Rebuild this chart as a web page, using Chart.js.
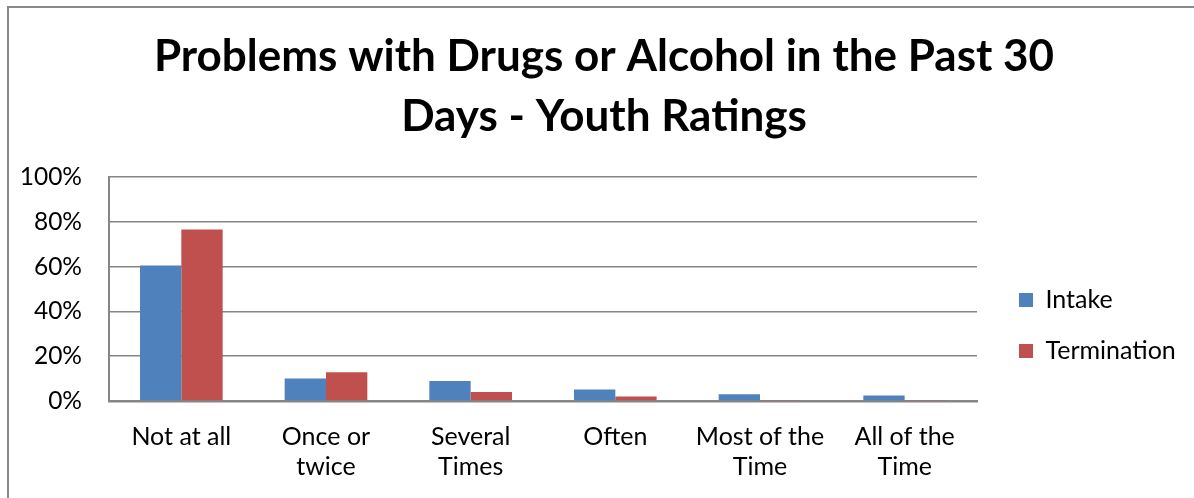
<!DOCTYPE html>
<html>
<head>
<meta charset="utf-8">
<script src="https://cdn.jsdelivr.net/npm/chart.js@4/dist/chart.umd.min.js"></script>
<style>
    html, body { margin: 0; padding: 0; background: #fff; overflow: hidden; }
    #canvas { position: absolute; left: 0; top: 0; width: 1194px; height: 498px; }
    #myChart { display: block; }
</style>
</head>
<body>
<div id="canvas"><canvas id="myChart"></canvas></div>
<script>
const categories = [
    'Not at all',
    ['Once or', 'twice'],
    ['Several', 'Times'],
    'Often',
    ['Most of the', 'Time'],
    ['All of the', 'Time']
];
const intake = [60.5, 10, 8.9, 5.1, 3, 2.5];
const termination = [76.6, 12.8, 4, 2, 0.5, 0.5];
const yTicks = [0, 20, 40, 60, 80, 100];

const fontFamily = 'Lato, "Noto Sans", sans-serif';
const gridColor = '#868686';

const data = {
    labels: categories,
    datasets: [
        {
            label: 'Intake',
            data: intake,
            backgroundColor: '#4F81BD',
            borderWidth: 0
        },
        {
            label: 'Termination',
            data: termination,
            backgroundColor: '#C0504D',
            borderWidth: 0
        }
    ]
};

// outer chart frame, only its left and top edges are inside the picture
const chartFrame = {
    id: 'chartFrame',
    beforeDraw(chart) {
        const c = chart.ctx;
        c.save();
        c.fillStyle = '#fff';
        c.fillRect(0, 0, chart.width, chart.height);
        c.strokeStyle = '#898989';
        c.lineWidth = 2;
        c.beginPath();
        c.moveTo(8, chart.height);
        c.lineTo(8, 7);
        c.lineTo(chart.width, 7);
        c.stroke();
        c.restore();
    }
};

// legend box sits right of the plot; Excel puts it a bit lower than centre
const legendPlace = {
    id: 'legendPlace',
    beforeLayout(chart) {
        const lg = chart.legend;
        if (lg && !lg._patched) {
            const fit = lg.fit;
            lg.fit = function () {
                fit.call(this);
                this.width = 217;
            };
            lg._patched = true;
        }
    },
    afterLayout(chart) {
        const lg = chart.legend;
        lg.left = 993;
        lg.right = 1194;
        lg.top = 261.5;
        lg.bottom = 498;
    }
};

const options = {
    responsive: false,
    animation: false,
    layout: {
        padding: { left: 14, right: 0, top: 0, bottom: 0 }
    },
    datasets: {
        bar: {
            categoryPercentage: 0.5714,
            barPercentage: 1
        }
    },
    scales: {
        y: {
            min: 0,
            max: 100,
            afterFit(scale) { scale.width = 95; },
            afterBuildTicks(scale) {
                scale.ticks = yTicks.map(v => ({ value: v }));
            },
            grid: {
                color: gridColor,
                lineWidth: 1.5,
                drawTicks: false
            },
            border: { display: true, color: gridColor, width: 2 },
            ticks: {
                padding: 27,
                color: '#000',
                font: { family: fontFamily, size: 24.5 },
                callback: v => v + '%'
            }
        },
        x: {
            afterFit(scale) { scale.height = 97; },
            grid: { display: false, drawTicks: false },
            border: { display: true, color: gridColor, width: 2.5 },
            ticks: {
                padding: 21,
                color: '#000',
                maxRotation: 0,
                autoSkip: false,
                font: { family: fontFamily, size: 25, lineHeight: '30px' }
            }
        }
    },
    plugins: {
        title: {
            display: true,
            text: ['Problems with Drugs or Alcohol in the Past 30', 'Days - Youth Ratings'],
            color: '#000',
            font: { family: fontFamily, size: 44, weight: 'bold', lineHeight: '60px' },
            padding: { top: 27, bottom: 30 }
        },
        legend: {
            display: true,
            position: 'right',
            align: 'start',
            labels: {
                color: '#000',
                boxWidth: 14,
                boxHeight: 14,
                padding: 26,
                font: { family: fontFamily, size: 25 }
            }
        },
        tooltip: { enabled: false }
    }
};

const canvas = document.getElementById('myChart');
canvas.width = 1194;
canvas.height = 498;
const ctx = canvas.getContext('2d');

const myChart = new Chart(ctx, {
    type: 'bar',
    data: data,
    options: options,
    plugins: [chartFrame, legendPlace]
});
</script>
</body>
</html>
